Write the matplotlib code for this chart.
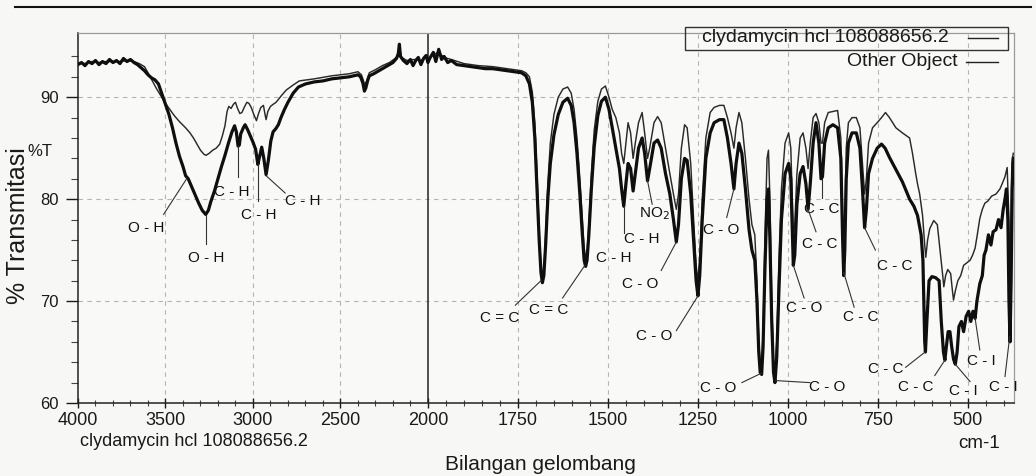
import numpy as np
import matplotlib
matplotlib.use("Agg")
import matplotlib.pyplot as plt
from matplotlib.lines import Line2D
from matplotlib.patches import Rectangle

plt.rcParams['font.family'] = ['Liberation Sans', 'DejaVu Sans']

# ---- data (wavenumber cm-1, %T) ----
SAMPLE_NAME = "clydamycin hcl 108088656.2"
OTHER_NAME = "Other Object"

SAMPLE = [
    (4000, 93.2), (3980, 93.4), (3960, 93.1), (3940, 93.5), (3920, 93.3), (3900, 93.6),
    (3880, 93.2), (3860, 93.5), (3840, 93.3), (3820, 93.7), (3800, 93.4), (3780, 93.6),
    (3760, 93.3), (3740, 93.8), (3720, 93.5), (3700, 93.7), (3680, 93.4), (3660, 93.2),
    (3640, 92.9), (3620, 92.6), (3600, 92.2), (3580, 91.9), (3560, 91.7), (3540, 91.3),
    (3520, 90.3), (3500, 89.3), (3480, 88.3), (3460, 87.0), (3440, 85.5), (3420, 84.2),
    (3400, 83.2), (3385, 82.3), (3370, 82.0), (3350, 81.2), (3330, 80.4), (3310, 79.6),
    (3290, 78.9), (3270, 78.5), (3255, 78.9), (3240, 79.8), (3220, 80.8), (3200, 82.0),
    (3180, 83.2), (3160, 84.3), (3140, 85.5), (3120, 86.6), (3105, 87.2), (3095, 86.6),
    (3085, 85.2), (3078, 85.3), (3070, 86.4), (3055, 87.0), (3045, 87.3), (3030, 86.8),
    (3015, 86.2), (3000, 85.6), (2985, 84.9), (2972, 83.4), (2962, 84.2), (2950, 85.1),
    (2938, 84.0), (2925, 82.4), (2912, 83.8), (2898, 85.7), (2885, 86.6), (2870, 86.9),
    (2855, 87.3), (2840, 88.0), (2820, 88.8), (2800, 89.5), (2770, 90.4), (2740, 91.0),
    (2700, 91.3), (2650, 91.5), (2600, 91.6), (2550, 91.8), (2500, 91.9), (2450, 92.0),
    (2400, 92.2), (2385, 92.0), (2372, 91.4), (2363, 90.6), (2355, 90.9), (2345, 91.6),
    (2335, 92.1), (2310, 92.3), (2280, 92.6), (2250, 92.9), (2220, 93.2), (2200, 93.4),
    (2180, 93.8), (2170, 94.2), (2163, 95.2), (2157, 94.0), (2140, 93.6), (2120, 93.3),
    (2100, 93.7), (2085, 93.1), (2070, 93.6), (2055, 93.9), (2040, 93.2), (2025, 93.8),
    (2010, 94.1), (2000, 93.4),
    (1995, 93.8), (1985, 94.4), (1978, 93.5), (1970, 94.7), (1962, 93.7), (1955, 94.0),
    (1945, 93.4), (1935, 93.6), (1920, 93.2), (1900, 93.1), (1880, 93.0), (1860, 92.9),
    (1840, 92.8), (1820, 92.8), (1800, 92.7), (1780, 92.6), (1760, 92.5), (1740, 92.4),
    (1728, 92.1), (1718, 91.3), (1710, 89.5), (1703, 86.0), (1697, 81.0), (1691, 76.0),
    (1686, 72.8), (1682, 71.8), (1678, 72.5), (1673, 75.5), (1667, 80.0), (1660, 83.5),
    (1650, 86.3), (1638, 88.3), (1625, 89.5), (1612, 89.9), (1602, 89.2), (1594, 87.5),
    (1586, 84.5), (1578, 80.5), (1571, 76.5), (1566, 74.0), (1562, 73.4), (1558, 74.0),
    (1553, 76.5), (1546, 81.0), (1538, 85.2), (1528, 88.2), (1518, 89.6), (1507, 90.0),
    (1497, 88.8), (1488, 87.0), (1478, 85.0), (1468, 83.0), (1462, 81.0), (1456, 79.3),
    (1450, 81.5), (1444, 83.5), (1437, 83.0), (1430, 80.8), (1424, 82.5), (1415, 85.0),
    (1405, 86.0), (1398, 84.5), (1390, 81.8), (1384, 83.0), (1372, 85.5), (1362, 85.8),
    (1352, 85.0), (1340, 82.5), (1328, 80.5), (1318, 78.0), (1310, 75.8), (1304, 77.5),
    (1296, 82.0), (1287, 84.0), (1280, 83.8), (1270, 80.5), (1262, 76.0), (1255, 72.0),
    (1250, 70.5), (1245, 72.5), (1238, 78.0), (1228, 84.0), (1216, 86.5), (1205, 87.5),
    (1190, 87.8), (1178, 87.8), (1168, 86.0), (1158, 83.5), (1150, 81.0), (1144, 83.5),
    (1136, 85.5), (1128, 84.5), (1118, 81.0), (1108, 77.0), (1100, 75.0), (1092, 74.0),
    (1086, 70.0), (1081, 65.0), (1077, 63.0), (1073, 62.8), (1069, 65.5), (1064, 73.0),
    (1058, 80.0), (1054, 81.0), (1050, 76.0), (1045, 68.0), (1040, 63.0), (1036, 62.0),
    (1031, 64.5), (1025, 71.0), (1018, 78.0), (1008, 82.5), (998, 83.5), (992, 82.0),
    (988, 77.0), (985, 73.5), (981, 74.5), (975, 79.5), (966, 82.5), (958, 83.2),
    (950, 81.5), (944, 79.0), (938, 81.5), (930, 85.5), (922, 87.5), (914, 85.5),
    (908, 82.0), (904, 82.2), (898, 85.5), (888, 87.0), (875, 87.3), (862, 87.0),
    (853, 84.0), (848, 76.0), (845, 72.5), (842, 75.0), (838, 82.0), (832, 85.5),
    (822, 86.5), (810, 86.5), (800, 85.0), (793, 81.0), (787, 77.2), (782, 79.0),
    (776, 82.5), (765, 84.0), (752, 85.0), (740, 85.4), (730, 85.0), (718, 84.1),
    (700, 82.9), (682, 81.7), (662, 80.0), (650, 79.3), (640, 78.4), (630, 76.5),
    (625, 74.0), (620, 66.0), (618, 65.0), (614, 68.0), (608, 72.0), (600, 72.4),
    (590, 72.3), (580, 72.0), (574, 68.0), (568, 65.0), (564, 64.2), (560, 65.5),
    (555, 67.0), (550, 67.0), (545, 65.5), (540, 64.3), (535, 63.8), (530, 65.0),
    (525, 67.5), (518, 68.0), (512, 67.0), (505, 68.5), (498, 69.0), (492, 68.0),
    (486, 69.0), (480, 68.3), (475, 70.0), (467, 71.7), (460, 72.5), (455, 74.5),
    (450, 75.0), (443, 76.5), (436, 75.5), (430, 76.8), (422, 77.0), (415, 78.0),
    (408, 77.2), (402, 79.0), (397, 80.0), (393, 81.0), (389, 78.0), (386, 70.0),
    (383, 66.0), (380, 72.0), (377, 81.0), (374, 84.0),
]

OTHER = [
    (4000, 93.4), (3960, 93.3), (3920, 93.5), (3880, 93.4), (3840, 93.5), (3800, 93.5),
    (3760, 93.5), (3720, 93.6), (3680, 93.5), (3650, 93.3), (3620, 93.0), (3600, 92.4),
    (3575, 91.6), (3550, 90.8), (3525, 90.1), (3500, 89.4), (3475, 88.8), (3450, 88.2),
    (3420, 87.6), (3385, 87.0), (3360, 86.5), (3340, 86.0), (3320, 85.4), (3300, 84.8),
    (3280, 84.4), (3268, 84.3), (3250, 84.5), (3230, 84.8), (3210, 85.0), (3190, 85.4),
    (3175, 86.2), (3160, 87.2), (3148, 88.6), (3138, 89.1), (3125, 88.9), (3112, 89.3),
    (3100, 89.5), (3088, 88.9), (3075, 88.4), (3063, 88.5), (3050, 89.0), (3035, 89.5),
    (3023, 89.4), (3010, 89.0), (2995, 88.3), (2980, 87.7), (2968, 88.4), (2955, 89.0),
    (2940, 89.2), (2932, 88.4), (2925, 87.8), (2915, 88.6), (2900, 89.1), (2885, 89.3),
    (2868, 89.5), (2840, 90.1), (2810, 90.7), (2770, 91.2), (2735, 91.6), (2650, 91.8),
    (2550, 92.1), (2450, 92.3), (2400, 92.5), (2380, 92.2), (2368, 91.6), (2362, 91.2),
    (2350, 91.6), (2335, 92.4), (2300, 92.7), (2260, 93.1), (2220, 93.4), (2180, 93.9),
    (2163, 94.8), (2150, 93.9), (2120, 93.6), (2080, 93.7), (2040, 93.6), (2010, 93.9),
    (2000, 93.6), (1985, 94.2), (1970, 94.4), (1955, 93.9), (1935, 93.7), (1900, 93.3),
    (1860, 93.1), (1820, 93.0), (1780, 92.8), (1740, 92.6), (1728, 92.4), (1718, 92.0),
    (1710, 90.5), (1703, 87.5), (1697, 82.5), (1691, 77.0), (1686, 73.3), (1682, 72.0),
    (1678, 72.8), (1673, 76.5), (1667, 81.5), (1660, 85.5), (1650, 88.3), (1638, 90.0),
    (1625, 90.8), (1612, 91.0), (1602, 90.4), (1594, 88.8), (1586, 86.0), (1578, 82.0),
    (1571, 78.0), (1566, 75.2), (1562, 74.3), (1558, 74.8), (1553, 77.5), (1546, 82.5),
    (1538, 86.8), (1528, 89.6), (1518, 90.8), (1507, 91.1), (1497, 90.0), (1488, 88.8),
    (1478, 88.0), (1468, 86.5), (1462, 84.5), (1456, 83.5), (1450, 85.5), (1444, 87.5),
    (1437, 86.5), (1430, 84.0), (1424, 85.5), (1415, 87.5), (1405, 88.5), (1398, 86.5),
    (1390, 84.0), (1384, 85.0), (1372, 87.5), (1362, 88.1), (1352, 87.5), (1340, 85.0),
    (1328, 82.5), (1318, 80.5), (1310, 79.0), (1304, 80.5), (1296, 85.0), (1287, 87.3),
    (1280, 87.0), (1270, 83.5), (1262, 78.0), (1255, 73.5), (1250, 72.0), (1245, 74.0),
    (1238, 80.0), (1228, 86.0), (1216, 88.5), (1205, 89.0), (1190, 89.2), (1178, 89.2),
    (1168, 88.0), (1158, 86.5), (1150, 85.0), (1144, 87.0), (1136, 88.5), (1128, 87.5),
    (1118, 84.0), (1108, 80.0), (1100, 77.5), (1092, 76.5), (1086, 72.0), (1081, 66.0),
    (1077, 64.0), (1073, 63.8), (1069, 67.0), (1064, 76.0), (1058, 84.0), (1054, 84.8),
    (1050, 80.0), (1045, 70.0), (1040, 64.0), (1036, 63.0), (1031, 66.0), (1025, 74.0),
    (1018, 81.0), (1008, 85.5), (998, 86.5), (992, 85.0), (988, 80.0), (985, 76.5),
    (981, 77.5), (975, 82.5), (966, 86.0), (958, 86.5), (950, 85.0), (944, 83.0),
    (938, 85.5), (930, 88.0), (922, 88.4), (914, 87.5), (908, 85.5), (904, 85.5),
    (898, 87.5), (888, 88.5), (875, 88.6), (862, 88.7), (853, 86.0), (848, 78.5),
    (845, 75.5), (842, 78.0), (838, 85.0), (832, 87.5), (822, 88.0), (810, 88.0),
    (800, 87.0), (793, 83.5), (787, 80.5), (782, 82.0), (776, 85.5), (765, 87.0),
    (752, 87.5), (740, 88.0), (729, 88.5), (718, 88.0), (700, 87.0), (682, 86.5),
    (662, 86.0), (654, 84.5), (645, 82.5), (640, 81.5), (634, 80.5), (626, 78.4),
    (620, 75.5), (617, 74.3), (612, 76.0), (606, 77.1), (595, 77.9), (585, 77.5),
    (578, 75.2), (570, 72.5), (567, 71.4), (562, 72.5), (556, 73.1), (548, 72.7),
    (543, 71.0), (540, 70.1), (535, 71.0), (528, 72.0), (520, 72.5), (512, 73.5),
    (505, 73.7), (494, 74.0), (487, 74.5), (480, 75.2), (474, 76.5), (467, 78.1),
    (460, 79.0), (453, 79.6), (445, 79.8), (434, 80.3), (422, 80.5), (411, 81.0),
    (405, 81.5), (397, 82.2), (391, 83.1), (387, 79.0), (384, 74.0), (381, 77.0),
    (378, 83.5), (374, 84.5),
]

# peak labels: text, text position (wn, %T), pointer line (wn, %T) -> (wn, %T)
LABELS = [
    ("O - H", (3609, 77.2), (3511, 78.5), (3379, 82.0)),
    ("O - H", (3270, 74.2), (3270, 75.6), (3270, 78.4)),
    ("C - H", (3121, 80.7), (3086, 82.2), (3086, 85.2)),
    ("C - H", (2966, 78.4), (2971, 79.8), (2971, 83.4)),
    ("C - H", (2718, 79.8), (2816, 80.6), (2925, 82.3)),
    ("C = C", (1802, 68.3), (1757, 69.6), (1686, 72.0)),
    ("C = C", (1665, 69.1), (1626, 70.3), (1564, 73.5)),
    ("C - H", (1483, 74.2), None, None),
    ("C - H", (1405, 76.1), (1456, 76.7), (1456, 79.3)),
    ("NO$_2$", (1372, 78.6), (1377, 79.5), (1390, 81.8)),
    ("C - O", (1411, 71.7), (1352, 73.0), (1310, 75.8)),
    ("C - O", (1372, 66.6), (1310, 67.1), (1250, 70.5)),
    ("C - O", (1184, 77.0), (1170, 78.2), (1150, 81.0)),
    ("C - O", (1193, 61.5), (1128, 62.0), (1075, 62.9)),
    ("C - O", (891, 61.6), (939, 62.0), (1034, 62.2)),
    ("C - O", (955, 69.3), (955, 70.3), (985, 73.5)),
    ("C - C", (905, 79.0), (905, 80.1), (905, 82.0)),
    ("C - C", (911, 75.6), (922, 76.8), (944, 79.0)),
    ("C - C", (799, 68.4), (816, 69.4), (845, 72.8)),
    ("C - C", (704, 73.4), (757, 75.0), (787, 77.2)),
    ("C - C", (729, 63.3), (673, 63.5), (619, 65.0)),
    ("C - C", (645, 61.6), (592, 62.7), (564, 64.2)),
    ("C - I", (514, 61.2), (494, 62.1), (535, 63.8)),
    ("C - I", (464, 64.1), (467, 65.2), (480, 68.3)),
    ("C - I", (402, 61.6), (397, 62.6), (384, 66.5)),
]

X_MAJOR = [4000, 3500, 3000, 2500, 2000, 1750, 1500, 1250, 1000, 750, 500]
Y_MAJOR = [60, 70, 80, 90]

# half scale above 2000 cm-1
R = 0.486


def fwd(x):
    x = np.asarray(x, dtype=float)
    return np.where(x <= 2000, x, 2000 + (x - 2000) * R)


def inv(u):
    u = np.asarray(u, dtype=float)
    return np.where(u <= 2000, u, 2000 + (u - 2000) / R)


W, H = 1036, 476
fig = plt.figure(figsize=(W / 100, H / 100), dpi=100, facecolor='#f7f7f5')


def px(x, y):
    return x / W, 1 - y / H


ax = fig.add_axes([78 / W, 1 - 403 / H, (1014 - 78) / W, (403 - 33) / H])
ax.set_facecolor('#f9f9f7')
ax.set_xscale('function', functions=(fwd, inv))

s = np.array(SAMPLE)
o = np.array(OTHER)
ax.plot(o[:, 0], o[:, 1], color='#2a2a2a', lw=1.05, zorder=3)
ax.plot(s[:, 0], s[:, 1], color='#0f0f0f', lw=2.3, zorder=4)

ax.set_xlim(4000, 372)
ax.set_ylim(60, 96.3)

ax.set_xticks(X_MAJOR)
ax.set_xticklabels([str(v) for v in X_MAJOR])
minor_x = [v for v in range(3900, 2000, -100) if v not in X_MAJOR] + \
          [v for v in range(1950, 375, -50) if v not in X_MAJOR]
ax.set_xticks(minor_x, minor=True)
ax.set_yticks(Y_MAJOR)
ax.set_yticks(np.arange(62, 96, 2), minor=True)

ax.tick_params(axis='x', which='major', direction='inout', length=7, width=1,
               labelsize=13, pad=3, colors='#1a1a1a')
ax.tick_params(axis='x', which='minor', direction='inout', length=4, width=0.8,
               colors='#444')
ax.tick_params(axis='y', which='major', direction='out', length=9, width=1,
               labelsize=12, pad=5, colors='#1a1a1a')
ax.tick_params(axis='y', which='minor', direction='out', length=5, width=0.8,
               colors='#444')

for v in X_MAJOR:
    if v not in (4000, 2000):
        ax.axvline(v, color='#b4b4b4', lw=0.8, ls=(0, (4, 4)), zorder=1)
for v in (70, 80, 90):
    ax.axhline(v, color='#b4b4b4', lw=0.8, ls=(0, (4, 4)), zorder=1)
ax.axvline(2000, color='#222', lw=1.1, zorder=2)

for side in ('left', 'bottom'):
    ax.spines[side].set_color('#222')
    ax.spines[side].set_linewidth(1.1)
for side in ('top', 'right'):
    ax.spines[side].set_color('#9a9a9a')
    ax.spines[side].set_linewidth(0.9)

for text, tpos, p0, p1 in LABELS:
    ax.text(tpos[0], tpos[1], text, ha='center', va='center', fontsize=11,
            color='#111', zorder=5)
    if p0 is not None:
        ax.plot([p0[0], p1[0]], [p0[1], p1[1]], color='#333', lw=0.8, zorder=5)

# axis texts
fig.text(*px(40, 152), '%T', ha='center', va='center', fontsize=12, color='#1a1a1a')
fig.text(*px(18, 226), '% Transmitasi', ha='center', va='center', rotation=90,
         fontsize=18, color='#1a1a1a')
fig.text(*px(80, 442), SAMPLE_NAME, ha='left', va='center', fontsize=13, color='#1a1a1a')
fig.text(*px(540, 464), 'Bilangan gelombang', ha='center', va='center', fontsize=15,
         color='#1a1a1a')
fig.text(*px(1000, 443), 'cm-1', ha='right', va='center', fontsize=13.5, color='#1a1a1a')

# legend drawn in figure pixels
x0, y0 = px(685, 50)
x1, y1 = px(1008, 27)
fig.add_artist(Rectangle((x0, y0), x1 - x0, y1 - y0, transform=fig.transFigure,
                         fill=False, edgecolor='#333', lw=1.0))
fig.text(*px(702, 38), SAMPLE_NAME, ha='left', va='center', fontsize=14, color='#1a1a1a')
fig.add_artist(Line2D([968 / W, 998 / W], [1 - 38 / H] * 2, color='#222', lw=1.0,
                      transform=fig.transFigure))
fig.text(*px(958, 62), OTHER_NAME, ha='right', va='center', fontsize=14, color='#1a1a1a')
fig.add_artist(Line2D([966 / W, 998 / W], [1 - 62 / H] * 2, color='#222', lw=1.0,
                      transform=fig.transFigure))

# rule at the very top
fig.add_artist(Line2D([15 / W, 1031 / W], [1 - 7 / H] * 2, color='#111', lw=1.5,
                      transform=fig.transFigure))

fig.savefig('out.png', dpi=100, facecolor=fig.get_facecolor())
